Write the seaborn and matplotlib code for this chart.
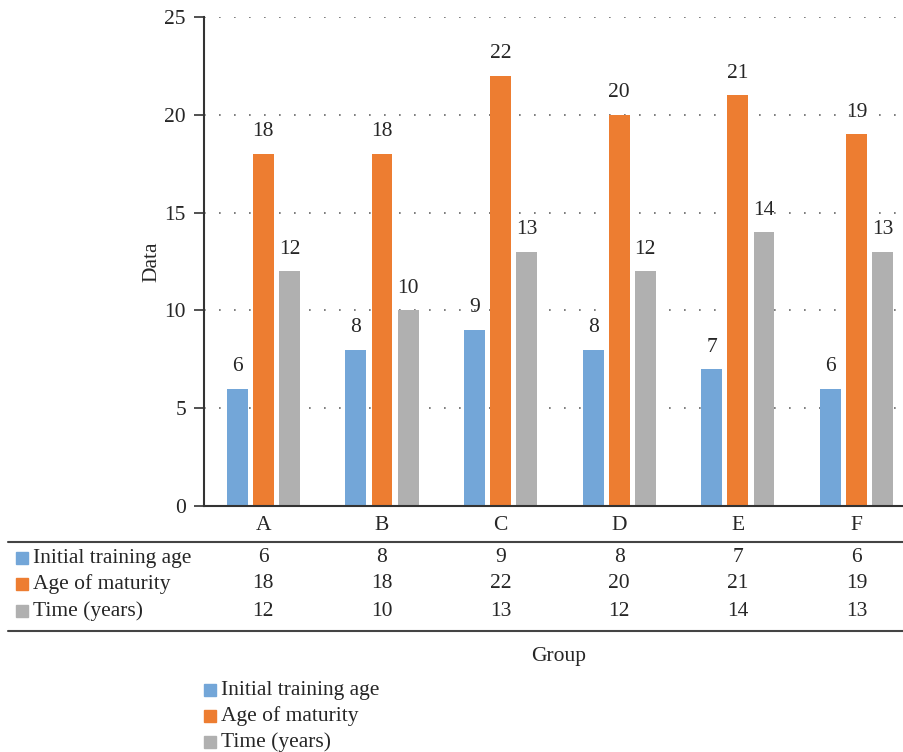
import pandas as pd
import matplotlib.pyplot as plt
import seaborn as sns
from matplotlib.patches import Rectangle
from matplotlib.lines import Line2D
import matplotlib.transforms as mtransforms

groups = ["A", "B", "C", "D", "E", "F"]
series_names = ["Initial training age", "Age of maturity", "Time (years)"]
initial_age = [6, 8, 9, 8, 7, 6]
maturity_age = [18, 18, 22, 20, 21, 19]
time_years = [12, 10, 13, 12, 14, 13]
colors = ["#73A6D8", "#ED7D31", "#B0B0B0"]

rows = []
for name, vals in zip(series_names, [initial_age, maturity_age, time_years]):
    for g, v in zip(groups, vals):
        rows.append({"Group": g, "Series": name, "Value": v})
df = pd.DataFrame(rows)

sns.set_style("white")
plt.rcParams['font.family'] = ['Liberation Serif', 'DejaVu Serif']
FS = 15.5

W, H = 904, 752
fig = plt.figure(figsize=(W / 100, H / 100), dpi=100)
ax = fig.add_axes([204 / W, 1 - 506 / H, 700 / W, 489 / H])

sns.barplot(data=df, x="Group", y="Value", hue="Series", palette=colors,
            saturation=1, width=0.66, gap=0.2, ax=ax, legend=False,
            linewidth=0, zorder=2)

ax.set_ylim(0, 25)
ax.set_xlim(-0.5, 5.4)
ax.set_yticks([0, 5, 10, 15, 20, 25])
ax.yaxis.grid(True, linestyle=(0, (1, 8)), color="#666666", linewidth=1.2, zorder=0)
ax.set_axisbelow(True)
for s in ["top", "right"]:
    ax.spines[s].set_visible(False)
for s in ["left", "bottom"]:
    ax.spines[s].set_color("#333333")
    ax.spines[s].set_linewidth(1.5)
ax.tick_params(axis="y", which="major", left=True, length=7, width=1.2,
               color="#333333", labelsize=FS, pad=6)
ax.tick_params(axis="x", bottom=False, labelsize=FS, pad=4)
ax.set_xlabel("")
ax.set_ylabel("Data", fontsize=FS, labelpad=2)

# value labels above each bar
for cont in ax.containers:
    ax.bar_label(cont, fontsize=FS, padding=9)

# data table under the axis
trans = mtransforms.blended_transform_factory(ax.transData, ax.transAxes)
to_ax_y = lambda ypx: (506 - ypx) / 489
for yline in [542, 631]:
    fig.add_artist(Line2D([8 / W, 1.0], [1 - yline / H, 1 - yline / H],
                          color="#444444", linewidth=1.5))
for row_y, name, vals, c in zip([558, 584, 611], series_names,
                                [initial_age, maturity_age, time_years], colors):
    fig.add_artist(Rectangle((16 / W, 1 - (row_y + 6) / H), 12 / W, 12 / H,
                             color=c, transform=fig.transFigure))
    fig.text(33 / W, 1 - row_y / H, name, fontsize=FS, va="center", ha="left")
    for i, v in enumerate(vals):
        ax.text(i, to_ax_y(row_y), str(v), transform=trans, fontsize=FS,
                ha="center", va="center", clip_on=False)

fig.text(559 / W, 1 - 657 / H, "Group", fontsize=FS, ha="center", va="center")

# legend at the bottom
for row_y, name, c in zip([690, 716, 742], series_names, colors):
    fig.add_artist(Rectangle((204 / W, 1 - (row_y + 6) / H), 12 / W, 12 / H,
                             color=c, transform=fig.transFigure))
    fig.text(221 / W, 1 - row_y / H, name, fontsize=FS, va="center", ha="left")

fig.savefig("out.png", dpi=100)
